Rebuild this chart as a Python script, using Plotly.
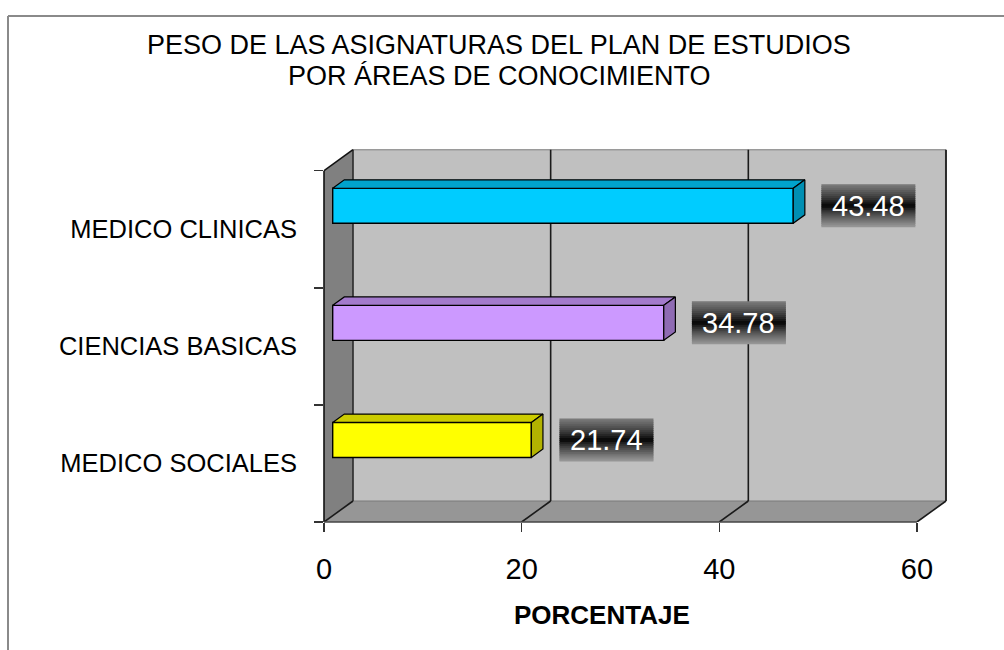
import plotly.graph_objects as go

# ---------------- data ----------------
categories = ["MEDICO SOCIALES", "CIENCIAS BASICAS", "MEDICO CLINICAS"]
bar_lengths = [20.1, 33.5, 46.6]          # lengths of the drawn bars on the 0-60 axis
label_text = ["21.74", "34.78", "43.48"]  # data labels printed next to the bars
x_ticks = [0, 20, 40, 60]
front_colors = ["#FFFF00", "#CC99FF", "#00CCFF"]
top_colors = ["#CCCC00", "#A37ACC", "#00A3CC"]
side_colors = ["#B3B300", "#8F6BB3", "#008FB3"]

# ---------------- geometry ----------------
W, H = 1004, 650
L, R, T, B = 324, 52, 148, 128
PW, PH = W - L - R, H - T - B
PX_U = 9.883          # px per axis unit (x)
PX_V = 117.1          # px per category band (y)
X_MAX = PW / PX_U
Y_MAX = PH / PX_V
N = len(categories)
XEND = x_ticks[-1]

DX, DY = 29 / PX_U, 21 / PX_V          # wall depth
BDX, BDY = 11.6 / PX_U, 8.4 / PX_V     # bar depth
B0 = 8.7 / PX_U                        # bar front face start
SHIFT = 23.5 / PX_V                    # bar front face raised above band centre
BH = 35 / PX_V                         # bar front face height
LABEL_DX = 7.6
BOX_W, BOX_H = 94 / PX_U, 43 / PX_V

FONT = "Liberation Sans, Arial, sans-serif"


def xp(px):
    return (px - L) / PW


def yp(py):
    return (H - B - py) / PH


shapes = []


def dline(x0, y0, x1, y1, color, width, layer="below"):
    shapes.append(dict(type="line", xref="x", yref="y", x0=x0, y0=y0, x1=x1, y1=y1,
                       line=dict(color=color, width=width), layer=layer))


# walls
shapes.append(dict(type="rect", xref="x", yref="y", x0=DX, x1=XEND + DX, y0=DY, y1=N + DY,
                   fillcolor="#C0C0C0", line=dict(width=0), layer="below"))
shapes.append(dict(type="path", xref="x", yref="y",
                   path=f"M 0,0 L {XEND},0 L {XEND + DX},{DY} L {DX},{DY} Z",
                   fillcolor="#969696", line=dict(width=0), layer="below"))
shapes.append(dict(type="path", xref="x", yref="y",
                   path=f"M 0,0 L 0,{N} L {DX},{N + DY} L {DX},{DY} Z",
                   fillcolor="#808080", line=dict(width=0), layer="below"))

dline(DX, N + DY, XEND + DX, N + DY, "#9A9A9A", 1.5)
dline(DX, DY, XEND + DX, DY, "#7A7A7A", 1)
dline(XEND + DX, DY, XEND + DX, N + DY, "#2A2A2A", 2)
for g in x_ticks[1:-1]:
    dline(g + DX, DY, g + DX, N + DY, "#1A1A1A", 1.6)
for g in x_ticks:
    dline(g, 0, g + DX, DY, "#1A1A1A", 1.6)
dline(DX, DY, DX, N + DY, "#2A2A2A", 1.6)
dline(0, N, DX, N + DY, "#111111", 1.6)

# front edges (paper refs so they are not clipped at the plot border)
shapes.append(dict(type="line", xref="paper", yref="paper", x0=0, x1=0, y0=0, y1=N / Y_MAX,
                   line=dict(color="#111111", width=1.6)))
shapes.append(dict(type="line", xref="paper", yref="paper", x0=0, x1=XEND / X_MAX, y0=0, y1=0,
                   line=dict(color="#444444", width=1.6)))

# outer chart border
shapes.append(dict(type="line", xref="paper", yref="paper", x0=xp(8), x1=xp(8), y0=yp(H + 5), y1=yp(16),
                   line=dict(color="#8A8A8A", width=2)))
shapes.append(dict(type="line", xref="paper", yref="paper", x0=xp(8), x1=xp(W + 5), y0=yp(16), y1=yp(16),
                   line=dict(color="#8A8A8A", width=2)))

fig = go.Figure()

# bar front faces
ypos = [i + 0.5 for i in range(N)]
fig.add_trace(go.Bar(
    y=ypos, x=bar_lengths, base=B0, orientation="h",
    width=BH, offset=SHIFT - BH / 2,
    marker=dict(color=front_colors, line=dict(color="#000000", width=1.4)),
    hoverinfo="skip", showlegend=False,
))

annotations = []
for i, (v, yc) in enumerate(zip(bar_lengths, ypos)):
    x0, x1 = B0, B0 + v
    y0, y1 = yc + SHIFT - BH / 2, yc + SHIFT + BH / 2
    # top face
    fig.add_trace(go.Scatter(
        x=[x0, x1, x1 + BDX, x0 + BDX, x0], y=[y1, y1, y1 + BDY, y1 + BDY, y1],
        mode="lines", fill="toself", fillcolor=top_colors[i],
        line=dict(color="#000000", width=1.2), hoverinfo="skip", showlegend=False))
    # side face
    fig.add_trace(go.Scatter(
        x=[x1, x1 + BDX, x1 + BDX, x1, x1], y=[y0, y0 + BDY, y1 + BDY, y1, y0],
        mode="lines", fill="toself", fillcolor=side_colors[i],
        line=dict(color="#000000", width=1.2), hoverinfo="skip", showlegend=False))

    # data label box with vertical gray-black-gray gradient
    cx = x1 + LABEL_DX
    cy = yc + SHIFT
    nstrip = 22
    over = 0.4 / nstrip
    for k in range(nstrip):
        t0 = k / nstrip
        t1 = (k + 1) / nstrip
        tm = (t0 + t1) / 2
        d = abs(tm - 0.5) * 2
        edge = 125 if tm < 0.5 else 155
        lev = int(round(edge * d ** 0.8))
        col = f"rgb({lev},{lev},{lev})"
        shapes.append(dict(type="rect", xref="x", yref="y",
                           x0=cx - BOX_W / 2, x1=cx + BOX_W / 2,
                           y0=cy + BOX_H / 2 - min(1, t1 + over) * BOX_H,
                           y1=cy + BOX_H / 2 - t0 * BOX_H,
                           fillcolor=col, line=dict(width=0), layer="above"))
    annotations.append(dict(x=cx, y=cy, xref="x", yref="y", text=label_text[i], showarrow=False,
                            font=dict(family=FONT, size=29, color="#FFFFFF"),
                            xanchor="center", yanchor="middle"))

# title lines and axis title
annotations.append(dict(x=xp(498.5), y=yp(45), xref="paper", yref="paper", showarrow=False,
                        text="PESO DE LAS ASIGNATURAS DEL PLAN DE ESTUDIOS",
                        font=dict(family=FONT, size=27, color="#000000"),
                        xanchor="center", yanchor="middle"))
annotations.append(dict(x=xp(499.5), y=yp(76), xref="paper", yref="paper", showarrow=False,
                        text="POR ÁREAS DE CONOCIMIENTO",
                        font=dict(family=FONT, size=27, color="#000000"),
                        xanchor="center", yanchor="middle"))
annotations.append(dict(x=xp(601.5), y=yp(615), xref="paper", yref="paper", showarrow=False,
                        text="<b>PORCENTAJE</b>",
                        font=dict(family=FONT, size=26, color="#000000"),
                        xanchor="center", yanchor="middle"))

fig.update_layout(
    width=W, height=H,
    margin=dict(l=L, r=R, t=T, b=B, pad=0, autoexpand=False),
    paper_bgcolor="#FFFFFF", plot_bgcolor="#FFFFFF",
    font=dict(family=FONT, color="#000000"),
    shapes=shapes, annotations=annotations,
    showlegend=False, bargap=0,
    xaxis=dict(range=[0, X_MAX], tickmode="array", tickvals=x_ticks,
               ticks="outside", ticklen=9, tickwidth=1.5, tickcolor="#333333",
               showgrid=False, zeroline=False, showline=False,
               tickfont=dict(family=FONT, size=29, color="#000000"),
               ticklabelstandoff=12, fixedrange=True),
    yaxis=dict(range=[0, Y_MAX], tickmode="array", tickvals=ypos, ticktext=categories,
               ticks="", showgrid=False, zeroline=False, showline=False,
               tickfont=dict(family=FONT, size=25.5, color="#000000"),
               ticklabelstandoff=26,
               minor=dict(tickmode="array", tickvals=list(range(N + 1)), ticks="outside",
                          ticklen=9, tickwidth=1.5, tickcolor="#333333", showgrid=False),
               fixedrange=True),
)

fig.write_html("out.html", config={"displayModeBar": False, "staticPlot": True},
               post_script="document.body.style.margin='0px';")
